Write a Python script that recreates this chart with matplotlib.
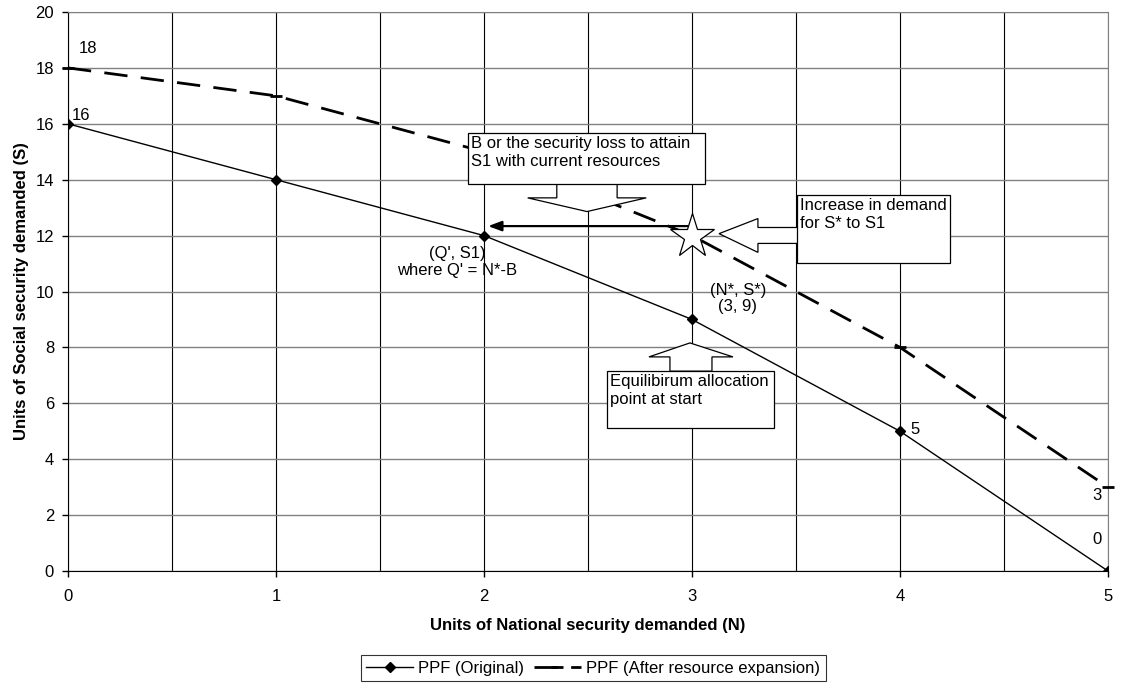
import matplotlib
matplotlib.use("Agg")
import matplotlib.pyplot as plt
from matplotlib.patches import Polygon
from matplotlib.ticker import MultipleLocator

plt.rcParams["font.family"] = ["Liberation Sans", "DejaVu Sans"]

# data
national = [0, 1, 2, 3, 4, 5]
social_original = [16, 14, 12, 9, 5, 0]
social_expanded = [18, 17, 15, 12, 8, 3]
star_point = (3, 12)

fig = plt.figure(figsize=(11.25, 6.85), dpi=100)
ax = fig.add_axes([68 / 1125, 1 - 571 / 685, 1040 / 1125, 559 / 685])

ax.plot(national, social_original, color="black", lw=1.0, marker="D", ms=5,
        label="PPF (Original)", zorder=4)
ax.plot(national, social_expanded, color="black", lw=2.0, dashes=(8.4, 4.8),
        marker="_", ms=9, mew=2.0, label="PPF (After resource expansion)",
        zorder=4, clip_on=False)

ax.set_xlim(0, 5)
ax.set_ylim(0, 20)
ax.xaxis.set_major_locator(MultipleLocator(1))
ax.xaxis.set_minor_locator(MultipleLocator(0.5))
ax.yaxis.set_major_locator(MultipleLocator(2))
ax.grid(axis="x", which="both", color="black", lw=0.8)
ax.grid(axis="y", which="major", color="#808080", lw=1.0)
ax.set_axisbelow(True)
ax.tick_params(axis="both", which="major", direction="out", length=4, width=1,
               labelsize=12, pad=6)
ax.tick_params(axis="x", which="major", pad=9)
ax.tick_params(axis="x", which="minor", length=0)
for side in ("top", "right"):
    ax.spines[side].set_color("#808080")
ax.spines["left"].set_color("black")
ax.spines["bottom"].set_color("black")

ax.set_xlabel("Units of National security demanded (N)", fontsize=12,
              fontweight="bold", labelpad=10)
ax.set_ylabel("Units of Social security demanded (S)", fontsize=12,
              fontweight="bold", labelpad=5)

# point labels
ax.text(0.05, 18.55, "18", fontsize=12)
ax.text(0.02, 16.15, "16", fontsize=12)
ax.text(4.05, 4.9, "5", fontsize=12)
ax.text(4.97, 2.55, "3", fontsize=12, ha="right")
ax.text(4.97, 0.95, "0", fontsize=12, ha="right")
ax.text(1.87, 10.5, "(Q', S1)\nwhere Q' = N*-B", fontsize=12, ha="center",
        va="bottom", linespacing=1.1)
ax.text(3.22, 9.2, "(N*, S*)\n(3, 9)", fontsize=12, ha="center",
        va="bottom", linespacing=1.1)

# star and arrow
ax.plot(*star_point, marker="*", ms=33, mfc="white", mec="black", mew=0.9,
        zorder=6)
ax.annotate("", xy=(2.02, 12.34), xytext=(2.99, 12.34),
            arrowprops=dict(arrowstyle="-|>,head_length=0.8,head_width=0.3",
                            color="black", lw=1.6, shrinkA=0, shrinkB=0),
            zorder=5)


def callout(box, pointer, text):
    x0, x1, y0, y1 = box
    ax.add_patch(Polygon(pointer, closed=True, fc="white", ec="black",
                         lw=0.9, zorder=7))
    ax.add_patch(Polygon([(x0, y0), (x1, y0), (x1, y1), (x0, y1)],
                         closed=True, fc="white", ec="black", lw=0.9,
                         zorder=7))
    ax.text(x0 + 0.015, y1 - 0.12, text, fontsize=12, va="top", ha="left",
            linespacing=1.2, zorder=8)


callout((1.923, 3.062, 13.85, 15.67),
        [(2.35, 13.86), (2.35, 13.35), (2.21, 13.35), (2.495, 12.86),
         (2.78, 13.35), (2.64, 13.35), (2.64, 13.86)],
        "B or the security loss to attain\nS1 with current resources")
callout((3.505, 4.24, 11.02, 13.45),
        [(3.51, 12.29), (3.317, 12.29), (3.317, 12.61), (3.13, 12.07),
         (3.317, 11.4), (3.317, 11.72), (3.51, 11.72)],
        "Increase in demand\nfor S* to S1")
callout((2.591, 3.394, 5.12, 7.16),
        [(2.894, 7.15), (2.894, 7.66), (2.793, 7.66), (2.99, 8.16),
         (3.197, 7.66), (3.096, 7.66), (3.096, 7.15)],
        "Equilibirum allocation\npoint at start")

leg = fig.legend(loc="center", bbox_to_anchor=(593 / 1125, 1 - 668 / 685),
                 ncol=2, fontsize=12, frameon=True, fancybox=False,
                 edgecolor="black", handlelength=2.8, columnspacing=0.6,
                 borderpad=0.35, handletextpad=0.3)
leg.get_frame().set_linewidth(0.8)

fig.savefig("out.png", dpi=100)
